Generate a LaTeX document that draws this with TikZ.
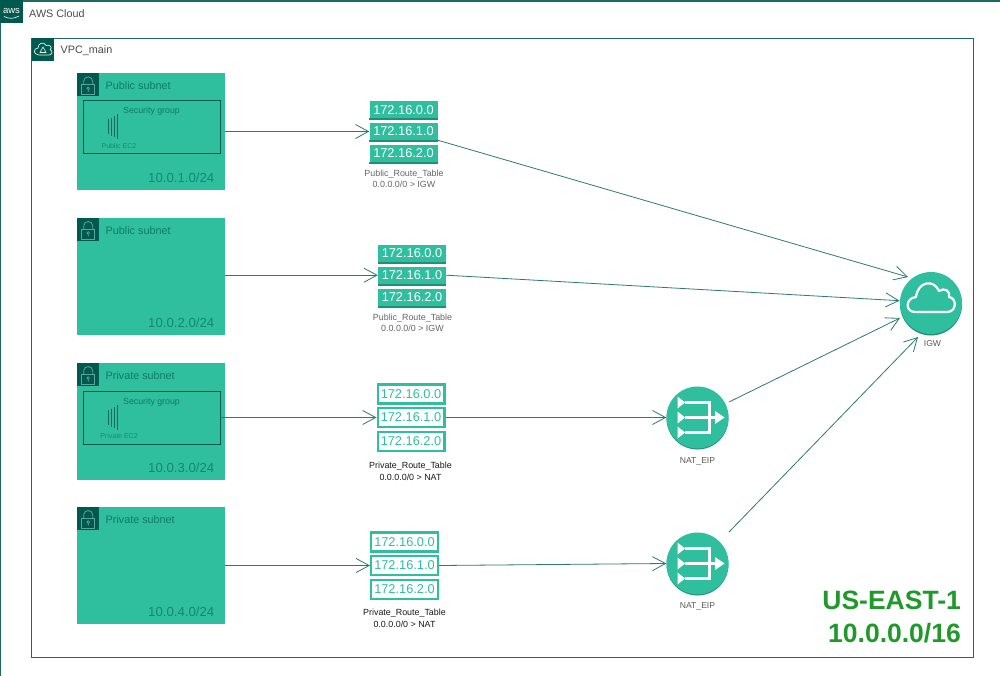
\documentclass[tikz,border=0pt]{standalone}
\usepackage{fontspec}
\setmainfont{Liberation Sans}
\usetikzlibrary{arrows.meta}
\definecolor{awsdark}{HTML}{00594F}
\definecolor{awsline}{HTML}{2F7A6E}
\definecolor{framecol}{HTML}{1F6A60}
\definecolor{awsfill}{HTML}{2FBF9F}
\definecolor{awsshade}{HTML}{1F8F78}
\definecolor{icongrey}{HTML}{5FA398}
\definecolor{usgreen}{HTML}{1F9A2A}
\tikzset{
 x=1pt,y=-1pt,
 subnetbox/.style={fill=awsfill,draw=none,rectangle,inner sep=0pt,anchor=north west,minimum width=148.3pt,minimum height=117pt},
 badge/.style={fill=awsdark,draw=none,rectangle,inner sep=0pt,anchor=north west,minimum width=22.5pt,minimum height=23pt},
 subnettitle/.style={anchor=base west,font=\fontsize{10.8}{12}\selectfont,text=awsdark!68!awsfill,inner sep=0pt},
 cidr/.style={anchor=base east,font=\fontsize{13.2}{15}\selectfont,text=awsdark!55!awsfill,inner sep=0pt},
 sgbox/.style={draw=awsdark,line width=.8pt,fill=none,rectangle,inner sep=0pt,anchor=north west,minimum width=136.8pt,minimum height=53pt},
 sgtitle/.style={font=\fontsize{8.8}{10}\selectfont,text=awsdark!68!awsfill,inner sep=0pt},
 ectwo/.style={font=\fontsize{7}{8}\selectfont,text=awsdark!52!awsfill,inner sep=0pt},
 pubrow/.style={fill=awsfill,draw=none,inner sep=0pt,minimum width=68pt,minimum height=17pt,text=white,font=\fontsize{12.8}{14}\selectfont},
 privrow/.style={fill=white,draw=awsfill,line width=2.4pt,inner sep=0pt,minimum width=66.6pt,minimum height=19pt,text=awsfill,font=\fontsize{12.8}{14}\selectfont},
 smalllabel/.style={align=center,font=\fontsize{8.9}{11.5}\selectfont,text=black!60,inner sep=0pt},
 darklabel/.style={align=center,font=\fontsize{8.9}{12.3}\selectfont,text=black!90,inner sep=0pt},
 svclabel/.style={font=\fontsize{8.6}{10}\selectfont,text=black!65,inner sep=0pt},
 conn/.style={draw=awsline,line width=.8pt,-{Straight Barb[length=13pt,width=14pt,line width=.8pt]}},
 roundsvc/.style={circle,fill=awsfill,draw=none,minimum size=62pt,inner sep=0pt},
 regiontext/.style={anchor=base east,font=\fontsize{26.5}{30}\selectfont\bfseries,text=usgreen,inner sep=0pt},
 maintitle/.style={anchor=base west,font=\fontsize{10.8}{12}\selectfont,text=black!70,inner sep=0pt},
}
\newcommand{\lockicon}[2]{%
 \begin{scope}[shift={(#1,#2)}]
  \draw[icongrey,line width=.8pt] (5,11) rectangle (18,21);
  \draw[icongrey,line width=.8pt] (7,11) -- (7,8) arc[start angle=180,end angle=360,radius=4.5] -- (16,11);
  \draw[icongrey,line width=.7pt] (11.5,15) circle (1.3) (11.5,16.3) -- (11.5,18.5);
 \end{scope}}
\newcommand{\ectwobars}[2]{%
 \begin{scope}[shift={(#1,#2)}]
  \draw[awsshade!75!black,line width=1pt] (0.5,5) -- (0.5,20) (3.3,3.5) -- (3.3,21.5) (6.1,2) -- (6.1,23);
  \draw[awsdark!85!awsfill,line width=1.4pt] (9.7,0) -- (9.7,24.5);
 \end{scope}}
\newcommand{\pubtable}[3]{%
 \node[pubrow] (#1a) at (#2,#3) {172.16.0.0};
 \fill[awsshade] (#1a.south west) rectangle ([yshift=-2pt]#1a.south east);
 \node[pubrow] (#1b) at (#2,#3+21.7) {172.16.1.0};
 \fill[awsshade] (#1b.south west) rectangle ([yshift=-2pt]#1b.south east);
 \node[pubrow] (#1c) at (#2,#3+43.7) {172.16.2.0};
 \fill[awsshade] (#1c.south west) rectangle ([yshift=-2pt]#1c.south east);
}
\newcommand{\privtable}[3]{%
 \node[privrow] (#1a) at (#2,#3) {172.16.0.0};
 \node[privrow] (#1b) at (#2,#3+23.5) {172.16.1.0};
 \node[privrow] (#1c) at (#2,#3+47.5) {172.16.2.0};
}
\newcommand{\natfig}[2]{%
 \begin{scope}[shift={(#1,#2)}]
  \draw[white,line width=2.1pt] (-13,-15) -- (12,-15) -- (12,15) -- (-13,15) (-13,0) -- (18,0);
  \fill[white] (-20,-21) -- (-12.5,-15) -- (-20,-9) -- cycle;
  \fill[white] (-20,-6) -- (-12.5,0) -- (-20,6) -- cycle;
  \fill[white] (-20,9) -- (-12.5,15) -- (-20,21) -- cycle;
  \fill[white] (17.5,-6.5) -- (27,0) -- (17.5,6.5) -- cycle;
 \end{scope}}
\begin{document}
\begin{tikzpicture}
\useasboundingbox (0,0) rectangle (1000,676);
\fill[white] (0,0) rectangle (1000,676);
% AWS cloud
\node[draw=framecol,line width=1.4pt,rectangle,inner sep=0pt,anchor=north west,minimum width=1010pt,minimum height=690pt] (cloud) at (0,0.2) {};
\node[badge] (cloudbadge) at (0,0) {};
\node[font=\fontsize{9.5}{11}\selectfont,text=white,inner sep=0pt] (awslogo) at (11.5,10.5) {aws};
\draw[white,line width=.6pt] (4,16.5) .. controls (9,19) and (14,19) .. (19,16);
\node[maintitle] (cloudtitle) at (29,17.3) {AWS Cloud};
% VPC
\node[draw=framecol,line width=1pt,rectangle,inner sep=0pt,anchor=north west,minimum width=941.5pt,minimum height=619pt] (vpc) at (31,37.7) {};
\node[badge] (vpcbadge) at (31.5,37.7) {};
\draw[white!85!awsfill,line width=.7pt] (39,55) .. controls (33,55) and (33,48) .. (38,48) .. controls (38,43) and (44,41) .. (46,45.5) .. controls (50,44) and (53,48) .. (50,49.5) .. controls (53.5,51) and (52,55) .. (49,55) -- cycle;
\draw[white!85!awsfill,line width=.6pt] (43,47) -- (40,52.5) -- (46,52.5) -- cycle;
\node[maintitle] (vpctitle) at (60.5,53.3) {VPC\_main};
% subnets
\node[subnetbox] (s1) at (76.7,73.3) {};
\node[subnetbox] (s2) at (76.7,218) {};
\node[subnetbox] (s3) at (76.7,363) {};
\node[subnetbox] (s4) at (76.7,507) {};
\foreach \y/\t/\c/\n in {73.3/Public subnet/10.0.1.0/a,218/Public subnet/10.0.2.0/b,363/Private subnet/10.0.3.0/c,507/Private subnet/10.0.4.0/d}{
 \node[badge] (badge\n) at (76.7,\y) {};
 \lockicon{76.7}{\y}
 \node[subnettitle] (title\n) at (105.5,\y+16) {\t};
 \node[cidr] (cidr\n) at (214.5,\y+109) {\c/24};
}
% security groups
\node[sgbox] (sg1) at (83,100.3) {};
\node[sgtitle] (sgt1) at (151.5,111) {Security group};
\ectwobars{108}{114.5}
\node[ectwo] (ec1) at (119,145.5) {Public EC2};
\node[sgbox] (sg3) at (83.2,391) {};
\node[sgtitle] (sgt3) at (151.5,402) {Security group};
\ectwobars{108}{405}
\node[ectwo] (ec3) at (119,435.5) {Private EC2};
% route tables
\pubtable{ra}{403.5}{109.8}
\pubtable{rb}{412}{253.5}
\privtable{rc}{411}{394}
\privtable{rd}{404.5}{542}
\node[smalllabel] (la) at (404,179) {Public\_Route\_Table\\0.0.0.0/0 > IGW};
\node[smalllabel] (lb) at (412.5,323) {Public\_Route\_Table\\0.0.0.0/0 > IGW};
\node[darklabel] (lc) at (410.5,471.5) {Private\_Route\_Table\\0.0.0.0/0 > NAT};
\node[darklabel] (ld) at (404.5,618) {Private\_Route\_Table\\0.0.0.0/0 > NAT};
% services
\fill[awsshade] (697.5,418.5) circle (31);
\fill[awsshade] (697.5,564.5) circle (31);
\fill[awsshade] (931,304.5) circle (31);
\node[roundsvc] (nat1) at (697.5,417.5) {};
\node[roundsvc] (nat2) at (697.5,563.5) {};
\node[roundsvc] (igw) at (931,303) {};
\natfig{697.5}{417.5}
\natfig{697.5}{563.5}
\draw[white,line width=2.2pt,line join=round] (915,312) .. controls (905,312) and (905,298) .. (916,297) .. controls (918,281) and (934,279) .. (939,291) .. controls (944,287) and (951,291) .. (949,297) .. controls (957,298) and (957,312) .. (947,312) -- cycle;
\node[svclabel] (ln1) at (697.5,461.5) {NAT\_EIP};
\node[svclabel] (ln2) at (697.5,606) {NAT\_EIP};
\node[svclabel] (ligw) at (932.5,344) {IGW};
% region label
\node[regiontext] (regiona) at (961,609) {US-EAST-1};
\node[regiontext] (regionb) at (961,642) {10.0.0.0/16};
% connectors
\coordinate (igwa) at (908,277);
\coordinate (igwb) at (899.5,300.7);
\coordinate (igwc) at (900,318);
\coordinate (igwd) at (918,337);
\coordinate (n1out) at (729,402);
\coordinate (n2out) at (729,532);
\draw[conn] (s1.east|-rab.west) -- (rab.west);
\draw[conn] (s2.east|-rbb.west) -- (rbb.west);
\draw[conn] (sg3.east|-rcb.west) -- (rcb.west);
\draw[conn] (s4.east|-rdb.west) -- (rdb.west);
\draw[conn] (rab.south east) -- (igwa);
\draw[conn] (rbb.east) -- (igwb);
\draw[conn] (rcb.east) -- (nat1.west);
\draw[conn] (rdb.east) -- (nat2.west);
\draw[conn] (n1out) -- (igwc);
\draw[conn] (n2out) -- (igwd);
\end{tikzpicture}
\end{document}
